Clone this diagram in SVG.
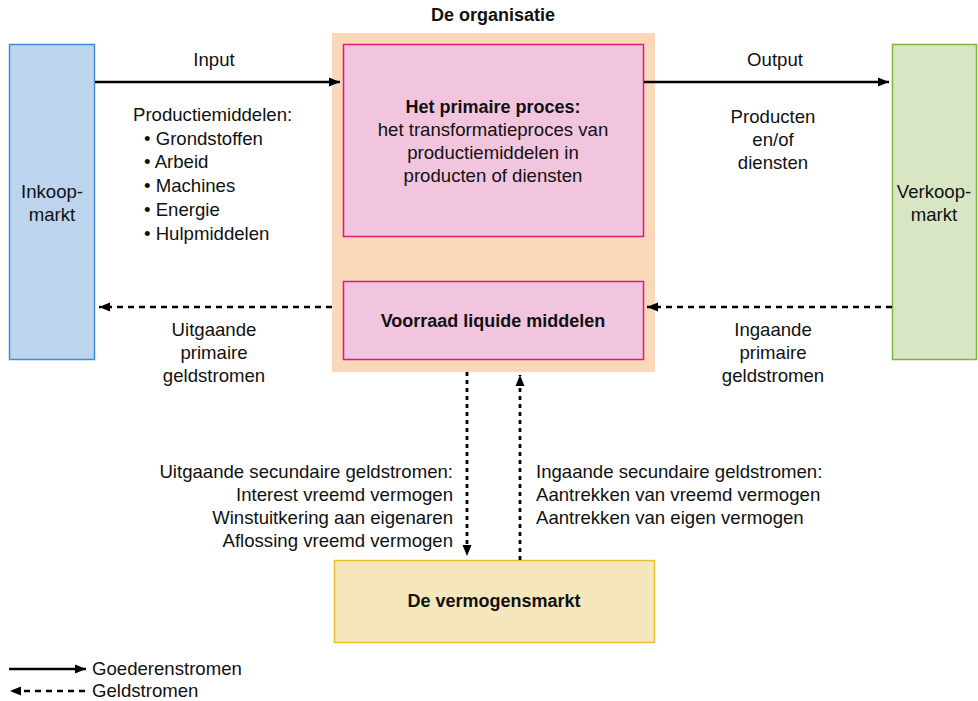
<svg xmlns="http://www.w3.org/2000/svg" width="978" height="701" viewBox="0 0 978 701">
<style>
text{font-family:"Liberation Sans",Arial,sans-serif;font-size:18.6px;fill:#111}
.b{font-weight:bold;font-size:18px}
.c{text-anchor:middle}
.r{text-anchor:end}
.solid{stroke:#000;stroke-width:2.5;fill:none}
.dash{stroke:#000;stroke-width:2.5;fill:none;stroke-dasharray:6 5}
.vdash{stroke:#000;stroke-width:2.8;fill:none;stroke-dasharray:4 4}
</style>
<defs>
<marker id="ah" markerUnits="userSpaceOnUse" markerWidth="12" markerHeight="10" refX="11" refY="5" orient="auto">
<path d="M0,0.5 L11,5 L0,9.5 Z" fill="#000"/>
</marker>
</defs>
<rect width="978" height="701" fill="#fff"/>

<g id="organisatie">
<rect x="332" y="33" width="323" height="339" fill="#fcd8bb"/>
<text class="b c" x="493" y="21">De organisatie</text>
</g>

<g id="inkoopmarkt">
<rect x="9.5" y="44.5" width="85" height="315" fill="#bdd4ee" stroke="#3d8ed6" stroke-width="1.5"/>
<text class="c" x="52" y="198">Inkoop-</text>
<text class="c" x="52" y="221">markt</text>
</g>

<g id="verkoopmarkt">
<rect x="892.5" y="44.5" width="84" height="315" fill="#d8e6c4" stroke="#7eb53f" stroke-width="1.5"/>
<text class="c" x="934" y="198">Verkoop-</text>
<text class="c" x="934" y="221">markt</text>
</g>

<g id="primair-proces">
<rect x="343.5" y="44.5" width="300" height="192" fill="#f2c5df" stroke="#e2177f" stroke-width="1.5"/>
<text class="b c" x="493" y="113">Het primaire proces:</text>
<text class="c" x="493" y="136">het transformatieproces van</text>
<text class="c" x="493" y="159">productiemiddelen in</text>
<text class="c" x="493" y="182">producten of diensten</text>
</g>

<g id="voorraad">
<rect x="343.5" y="281.5" width="300" height="78" fill="#f2c5df" stroke="#e2177f" stroke-width="1.5"/>
<text class="b c" x="493" y="327">Voorraad liquide middelen</text>
</g>

<g id="vermogensmarkt">
<rect x="334.5" y="560.5" width="320" height="82" fill="#f6e6bb" stroke="#e9c02c" stroke-width="1.5"/>
<text class="b c" x="494" y="607">De vermogensmarkt</text>
</g>

<g id="connectors">
<line class="solid" x1="95" y1="82" x2="340" y2="82" marker-end="url(#ah)"/>
<line class="solid" x1="644" y1="82" x2="889" y2="82" marker-end="url(#ah)"/>
<line class="dash" x1="332" y1="307" x2="99" y2="307" marker-end="url(#ah)"/>
<line class="dash" x1="892" y1="307" x2="647" y2="307" marker-end="url(#ah)"/>
<line class="vdash" x1="467" y1="372" x2="467" y2="556" marker-end="url(#ah)"/>
<line class="vdash" x1="520" y1="560" x2="520" y2="375" marker-end="url(#ah)"/>
</g>

<g id="labels">
<text class="c" x="214" y="66">Input</text>
<text x="133" y="121">Productiemiddelen:</text>
<text x="144" y="145">• Grondstoffen</text>
<text x="144" y="168">• Arbeid</text>
<text x="144" y="192">• Machines</text>
<text x="144" y="216">• Energie</text>
<text x="144" y="240">• Hulpmiddelen</text>
<text class="c" x="775" y="66">Output</text>
<text class="c" x="773" y="123">Producten</text>
<text class="c" x="773" y="146">en/of</text>
<text class="c" x="773" y="169">diensten</text>
<text class="c" x="214" y="336">Uitgaande</text>
<text class="c" x="214" y="359">primaire</text>
<text class="c" x="214" y="382">geldstromen</text>
<text class="c" x="773" y="336">Ingaande</text>
<text class="c" x="773" y="359">primaire</text>
<text class="c" x="773" y="382">geldstromen</text>
<text class="r" x="453" y="478">Uitgaande secundaire geldstromen:</text>
<text class="r" x="453" y="501">Interest vreemd vermogen</text>
<text class="r" x="453" y="524">Winstuitkering aan eigenaren</text>
<text class="r" x="453" y="547">Aflossing vreemd vermogen</text>
<text x="536" y="478">Ingaande secundaire geldstromen:</text>
<text x="536" y="501">Aantrekken van vreemd vermogen</text>
<text x="536" y="524">Aantrekken van eigen vermogen</text>
</g>

<g id="legend">
<line class="solid" x1="9" y1="669" x2="86" y2="669" marker-end="url(#ah)"/>
<line class="dash" x1="85" y1="691" x2="10" y2="691" marker-end="url(#ah)"/>
<text x="92" y="675">Goederenstromen</text>
<text x="92" y="697">Geldstromen</text>
</g>
</svg>
